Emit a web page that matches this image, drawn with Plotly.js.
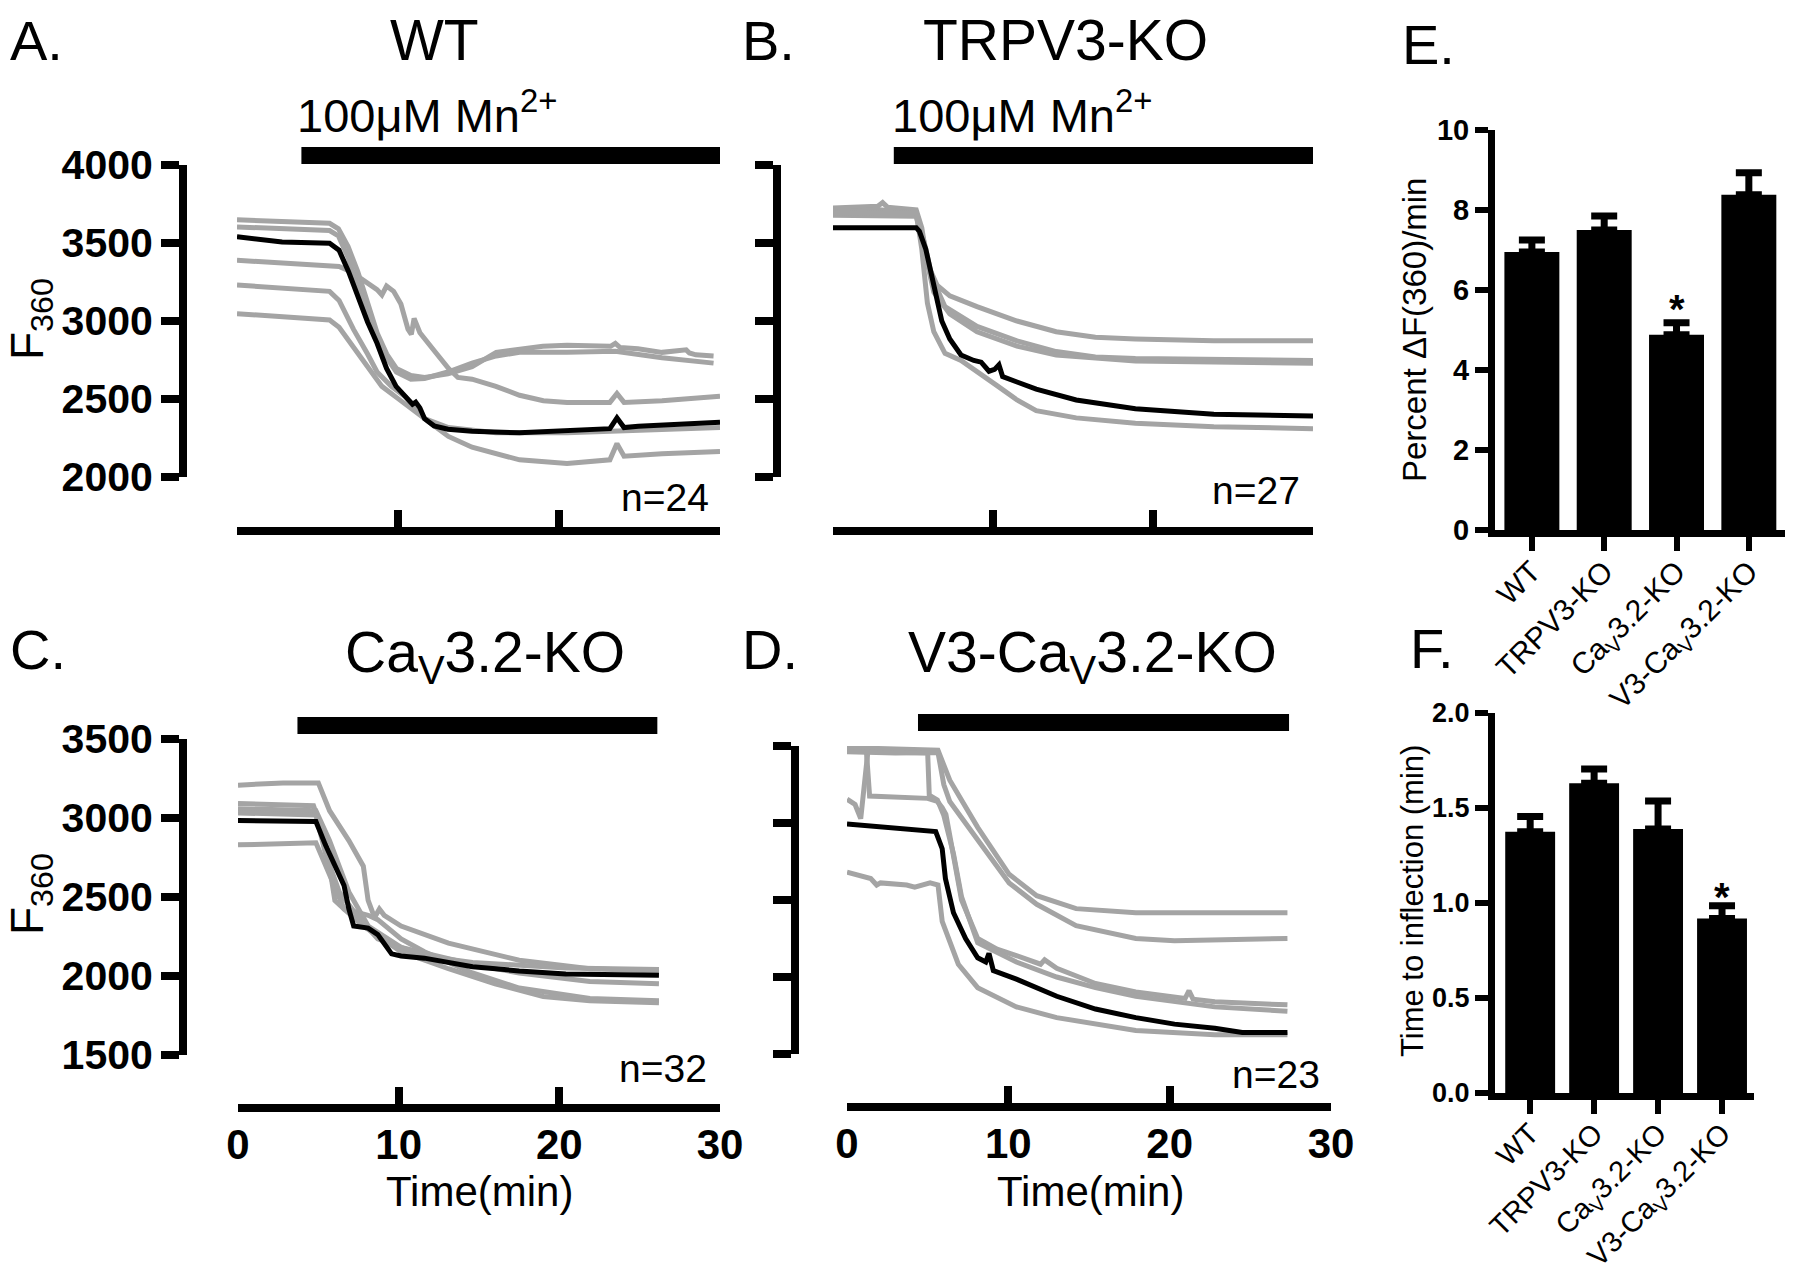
<!DOCTYPE html>
<html>
<head>
<meta charset="utf-8">
<script src="https://cdn.plot.ly/plotly-3.0.1.min.js"></script>
<style>html,body{margin:0;padding:0;background:#fff}#chart{width:1800px;height:1271px}</style>
</head>
<body>
<div id="chart"></div>
<script>
// ---------------- DATA ----------------
const timeTicks = [0, 10, 20, 30];
const yTicksTop = [2000, 2500, 3000, 3500, 4000];
const yTicksBottom = [1500, 2000, 2500, 3000, 3500];
const yRangeTop = [2000, 4000];
const yRangeBottom = [1500, 3500];

const panelTitles = ['WT', 'TRPV3-KO', 'Ca<sub>V</sub>3.2-KO', 'V3-Ca<sub>V</sub>3.2-KO'];
const nCounts = [24, 27, 32, 23];
const mnLabel = '100\u03bcM Mn<sup>2+</sup>';
const mnStart = [4.0, 3.8, 3.7, 4.4];
const mnEnd = [30.2, 30.4, 26.1, 27.4];

// Panel A (WT)
const aBlackT = [0, 2.8, 5.75, 6.34, 6.93, 7.52, 8.11, 8.7, 9.29, 9.88, 10.47, 10.9, 11.1, 11.36, 11.65, 12.24, 13.1, 14.6, 17.55, 20.5, 23.16, 23.6, 24.04, 24.93, 26.4, 30];
const aBlackV = [3540, 3506, 3499, 3454, 3316, 3155, 2994, 2857, 2696, 2581, 2512, 2466, 2480, 2443, 2374, 2328, 2306, 2294, 2283, 2294, 2310, 2379, 2317, 2325, 2333, 2351];
const aGray1T = [0, 5.75, 6.3, 6.9, 7.5, 8.1, 8.7, 9.3, 9.9, 10.8, 11.65, 13.1, 14.6, 16.1, 17.55, 19, 20.5, 23.2, 23.5, 23.8, 24.9, 26.4, 27.9, 28.1, 28.5, 29.6];
const aGray1V = [3649, 3626, 3591, 3477, 3316, 3109, 2925, 2788, 2696, 2650, 2638, 2661, 2707, 2799, 2822, 2838, 2845, 2838, 2857, 2830, 2822, 2799, 2815, 2795, 2783, 2776];
const aGray2T = [0, 5.75, 6.3, 6.9, 7.5, 8.1, 8.7, 9.3, 9.9, 10.8, 11.65, 13.1, 14.6, 16.1, 17.55, 20.5, 23.5, 26.4, 29.6];
const aGray2V = [3603, 3580, 3545, 3408, 3224, 3040, 2880, 2765, 2673, 2627, 2632, 2673, 2730, 2776, 2799, 2799, 2806, 2765, 2730];
const aGray3T = [0, 5.75, 6.34, 7.08, 8.11, 8.7, 9.0, 9.29, 9.73, 10.18, 10.62, 10.83, 11.0, 11.36, 12.24, 13.13, 13.72, 14.6, 16.08, 17.55, 19.03, 20.5, 23.16, 23.6, 24.04, 26.4, 30];
const aGray3V = [3389, 3350, 3350, 3316, 3247, 3201, 3167, 3224, 3190, 3109, 2948, 2914, 3017, 2925, 2811, 2696, 2638, 2627, 2581, 2524, 2489, 2478, 2478, 2535, 2478, 2489, 2517];
const aGray4T = [0, 5.75, 6.34, 7.23, 8.11, 8.7, 9.59, 10.47, 11.06, 11.65, 13.13, 14.6, 17.55, 20.5, 23.16, 23.6, 24.04, 26.4, 30];
const aGray4V = [3231, 3190, 3132, 2948, 2788, 2673, 2581, 2512, 2443, 2374, 2260, 2191, 2110, 2087, 2110, 2214, 2133, 2149, 2163];
const aGray5T = [0, 5.75, 6.34, 7.23, 8.11, 9.0, 9.88, 10.77, 11.65, 13.13, 16.08, 20.5, 23.16, 26.4, 30];
const aGray5V = [3047, 3006, 2960, 2834, 2696, 2581, 2512, 2443, 2374, 2317, 2283, 2283, 2294, 2306, 2317];

// Panel B (TRPV3-KO)
const bBlackT = [0, 5.2, 5.4, 5.8, 6.3, 6.8, 7.3, 8.0, 8.8, 9.26, 9.75, 10.1, 10.37, 10.6, 11.5, 12.7, 15.2, 18.9, 23.8, 30];
const bBlackV = [3598, 3598, 3575, 3460, 3230, 3000, 2885, 2782, 2747, 2736, 2678, 2690, 2719, 2644, 2609, 2563, 2494, 2437, 2402, 2391];
const bGray1T = [0, 1.5, 2.8, 3.1, 3.4, 5.2, 5.55, 5.9, 6.5, 7.3, 9.0, 11.5, 13.95, 16.4, 18.9, 23.8, 30];
const bGray1V = [3724, 3730, 3736, 3759, 3730, 3713, 3598, 3368, 3230, 3161, 3092, 3000, 2931, 2896, 2885, 2874, 2874];
const bGray2T = [0, 2.9, 5.2, 5.7, 6.2, 7.0, 9.0, 11.5, 13.95, 16.4, 18.9, 30];
const bGray2V = [3701, 3713, 3690, 3506, 3276, 3092, 2965, 2873, 2804, 2770, 2759, 2747];
const bGray3T = [0, 5.2, 5.7, 6.3, 7.3, 9.0, 11.5, 13.95, 18.9, 30];
const bGray3V = [3678, 3671, 3460, 3184, 3046, 2931, 2839, 2782, 2743, 2729];
const bGray4T = [0, 5.2, 5.55, 5.9, 6.3, 7.0, 8.0, 9.0, 10.25, 11.5, 12.7, 15.2, 18.9, 23.8, 30];
const bGray4V = [3690, 3694, 3460, 3115, 2931, 2793, 2747, 2678, 2586, 2494, 2425, 2379, 2345, 2322, 2310];

// Panel C (CaV3.2-KO)
const cBlackT = [0, 4.85, 5.44, 6.03, 6.6, 6.9, 7.2, 8.1, 8.7, 9.56, 10.15, 11.6, 14.6, 17.5, 20.4, 26.2];
const cBlackV = [2984, 2978, 2830, 2695, 2573, 2424, 2316, 2303, 2262, 2140, 2127, 2113, 2059, 2032, 2013, 2005];
const cGray1T = [0, 2.8, 5.0, 5.7, 6.9, 7.8, 8.1, 8.5, 8.8, 9.1, 10.15, 13.1, 17.5, 21.9, 26.2];
const cGray1V = [3208, 3222, 3222, 3046, 2857, 2695, 2478, 2370, 2424, 2384, 2316, 2208, 2100, 2046, 2032];
const cGray2T = [0, 4.7, 5.44, 6.03, 6.6, 8.1, 8.7, 10.15, 11.6, 14.6, 17.5, 21.9, 26.2];
const cGray2V = [3092, 3078, 2857, 2478, 2424, 2384, 2357, 2235, 2154, 2019, 1924, 1857, 1843];
const cGray3T = [0, 4.85, 5.7, 6.9, 8.1, 10.15, 14.6, 17.5, 21.9, 26.2];
const cGray3V = [3059, 3046, 2857, 2532, 2316, 2181, 2073, 2019, 1965, 1951];
const cGray4T = [0, 4.85, 5.44, 6.3, 7.5, 8.7, 11.6, 14.6, 20.4, 26.2];
const cGray4V = [3032, 3019, 2776, 2532, 2370, 2235, 2127, 2086, 2051, 2041];
const cGray5T = [0, 4.85, 5.7, 6.6, 7.8, 10.15, 13.1, 16.0, 19.0, 21.9, 26.2];
const cGray5V = [2830, 2843, 2641, 2424, 2316, 2154, 2046, 1951, 1870, 1843, 1830];

// Panel D (V3-CaV3.2-KO)
const dBlackT = [0, 5.5, 5.9, 6.1, 6.6, 7.35, 8.1, 8.6, 8.8, 9.07, 10.5, 13, 15.4, 17.9, 20.3, 22.8, 24.5, 27.3];
const dBlackV = [2994, 2944, 2833, 2639, 2417, 2250, 2125, 2097, 2153, 2042, 1986, 1875, 1792, 1736, 1694, 1667, 1639, 1639];
const dGray1T = [0, 1.2, 1.4, 3.0, 5.0, 5.6, 5.9, 6.13, 6.6, 7.1, 8.1, 9.3, 10.5, 12.0, 12.25, 13.0, 15.4, 17.9, 20.96, 21.2, 21.45, 22.8, 27.3];
const dGray1V = [3480, 3470, 3175, 3165, 3160, 3140, 3100, 3056, 2778, 2500, 2250, 2181, 2139, 2083, 2111, 2056, 1958, 1903, 1861, 1911, 1856, 1839, 1819];
const dGray2T = [0, 0.5, 0.85, 1.3, 3.0, 5.0, 5.1, 5.6, 6.0, 6.6, 7.1, 8.1, 10.5, 13.0, 15.4, 17.9, 22.8, 27.3];
const dGray2V = [3155, 3120, 3028, 3470, 3460, 3455, 3180, 3150, 3050, 2800, 2520, 2222, 2097, 2000, 1931, 1875, 1806, 1778];
const dGray3T = [0, 3.0, 5.64, 6.37, 8.1, 10.05, 11.76, 14.2, 17.9, 27.3];
const dGray3V = [3490, 3480, 3472, 3278, 2972, 2667, 2528, 2444, 2417, 2417];
const dGray4T = [0, 3.0, 5.64, 6.0, 6.37, 8.1, 10.05, 11.76, 14.2, 17.9, 20.3, 27.3];
const dGray4V = [3462, 3455, 3458, 3250, 3139, 2889, 2611, 2472, 2333, 2250, 2236, 2250];
const dGray5T = [0, 1.47, 1.84, 2.08, 3.7, 4.2, 5.15, 5.64, 5.9, 6.37, 6.9, 8.1, 10.5, 13, 17.9, 22.8, 27.3];
const dGray5V = [2681, 2639, 2597, 2611, 2597, 2583, 2611, 2597, 2361, 2222, 2083, 1931, 1806, 1736, 1653, 1625, 1625];

// Panels E and F (bar charts)
const groupLabels = ['WT', 'TRPV3-KO', 'Ca<sub>V</sub>3.2-KO', 'V3-Ca<sub>V</sub>3.2-KO'];
const rateMean = [6.95, 7.5, 4.88, 8.38];
const rateSem = [0.30, 0.35, 0.30, 0.55];
const rateSig = [false, false, true, false];
const rateTicks = [0, 2, 4, 6, 8, 10];
const inflMean = [1.375, 1.63, 1.39, 0.918];
const inflSem = [0.08, 0.075, 0.147, 0.068];
const inflSig = [false, false, false, true];
const inflTicks = [0, 0.5, 1.0, 1.5, 2.0];

// ---------------- DRAWING ----------------
const W = 1800, H = 1271;
const FONT = 'Liberation Sans, Arial, Helvetica, sans-serif';
const GRAY = '#a4a4a4';
const px = v => v / W;
const py = v => 1 - v / H;

function trace(t, v, n, color) {
  return {type: 'scatter', mode: 'lines', x: t, y: v, xaxis: 'x' + n, yaxis: 'y' + n,
    line: {color: color, width: 5}, hoverinfo: 'skip', showlegend: false, cliponaxis: false};
}

const panelTraces = [
  [[aGray1T, aGray1V], [aGray2T, aGray2V], [aGray3T, aGray3V], [aGray4T, aGray4V], [aGray5T, aGray5V], [aBlackT, aBlackV]],
  [[bGray1T, bGray1V], [bGray2T, bGray2V], [bGray3T, bGray3V], [bGray4T, bGray4V], [bBlackT, bBlackV]],
  [[cGray1T, cGray1V], [cGray2T, cGray2V], [cGray3T, cGray3V], [cGray4T, cGray4V], [cGray5T, cGray5V], [cBlackT, cBlackV]],
  [[dGray1T, dGray1V], [dGray2T, dGray2V], [dGray3T, dGray3V], [dGray4T, dGray4V], [dGray5T, dGray5V], [dBlackT, dBlackV]]
];
const axisSuffix = ['', '2', '3', '4'];

const data = [];
panelTraces.forEach((list, p) => {
  list.forEach((tv, i) => {
    data.push(trace(tv[0], tv[1], axisSuffix[p], i === list.length - 1 ? '#000' : GRAY));
  });
});

const catIdx = groupLabels.map((_, i) => i);
function barTrace(mean, sem, n, w) {
  return {type: 'bar', x: catIdx, y: mean, xaxis: 'x' + n, yaxis: 'y' + n, width: w,
    marker: {color: '#000', line: {width: 0}}, hoverinfo: 'skip', showlegend: false,
    error_y: {type: 'data', symmetric: false, array: sem, arrayminus: sem.map(() => 0),
      color: '#000', thickness: 7, width: 13}};
}
data.push(barTrace(rateMean, rateSem, '5', 0.76));
data.push(barTrace(inflMean, inflSem, '6', 0.78));

// axis helpers (positions in pixels)
function timeAxis(d0, d1, linePos, labels) {
  return {domain: [px(d0), px(d1)], range: [0, 30], anchor: 'free', position: py(linePos),
    showline: true, linewidth: 8, linecolor: '#000', ticks: 'inside', ticklen: 17, tickwidth: 8,
    tickcolor: '#000', tickmode: 'array', tickvals: timeTicks, showticklabels: labels,
    ticklabelstandoff: -3,
    tickfont: {family: FONT, size: 42, weight: 'bold', color: '#000'},
    showgrid: false, zeroline: false, fixedrange: true};
}
function fAxis(top, bottom, xPos, range, ticks, labels) {
  return {domain: [py(bottom), py(top)], range: range, anchor: 'free', position: px(xPos),
    showline: true, linewidth: 8, linecolor: '#000', ticks: 'outside', ticklen: 18, tickwidth: 8,
    tickcolor: '#000', tickmode: 'array', tickvals: ticks, showticklabels: labels,
    tickfont: {family: FONT, size: 41, weight: 'bold', color: '#000'},
    showgrid: false, zeroline: false, fixedrange: true};
}
function catAxis(d0, d1, yName, range, size) {
  return {domain: [px(d0), px(d1)], range: range, anchor: yName, showline: true, linewidth: 7,
    linecolor: '#000', ticks: 'outside', ticklen: 14, tickwidth: 6, tickcolor: '#000',
    tickmode: 'array', tickvals: catIdx, ticktext: groupLabels, tickangle: -45,
    ticklabelstandoff: -9,
    tickfont: {family: FONT, size: size, color: '#000'}, showgrid: false, zeroline: false, fixedrange: true};
}
function valAxis(top, bottom, xName, range, ticks, fmt, size) {
  return {domain: [py(bottom), py(top)], range: range, anchor: xName, showline: true, linewidth: 7,
    linecolor: '#000', ticks: 'outside', ticklen: 13, tickwidth: 6, tickcolor: '#000',
    tickmode: 'array', tickvals: ticks, tickformat: fmt,
    tickfont: {family: FONT, size: size, weight: 'bold', color: '#000'},
    showgrid: false, zeroline: false, fixedrange: true};
}

function ann(text, x, y, size, extra) {
  return Object.assign({text: text, x: px(x), y: py(y), xref: 'paper', yref: 'paper', showarrow: false,
    xanchor: 'center', yanchor: 'middle', font: {family: FONT, size: size, color: '#000'}}, extra || {});
}

const annotations = [
  ann('A.', 8, 40, 56, {xanchor: 'left'}),
  ann('B.', 740, 40, 56, {xanchor: 'left'}),
  ann('C.', 8, 650, 56, {xanchor: 'left'}),
  ann('D.', 740, 650, 56, {xanchor: 'left'}),
  ann('E.', 1400, 44, 56, {xanchor: 'left'}),
  ann('F.', 1408, 648, 56, {xanchor: 'left'}),
  ann(panelTitles[0], 434, 40, 57),
  ann(panelTitles[1], 1065, 40, 57),
  ann(panelTitles[2], 485, 656, 57),
  ann(panelTitles[3], 1092, 656, 57),
  ann(mnLabel, 295, 112, 47, {xanchor: 'left'}),
  ann(mnLabel, 890, 112, 47, {xanchor: 'left'}),
  ann('n=' + nCounts[0], 711, 497, 39, {xanchor: 'right'}),
  ann('n=' + nCounts[1], 1302, 491, 39, {xanchor: 'right'}),
  ann('n=' + nCounts[2], 709, 1068, 39, {xanchor: 'right'}),
  ann('n=' + nCounts[3], 1322, 1074, 39, {xanchor: 'right'}),
  ann('F<sub>360</sub>', 30, 319, 46, {textangle: -90}),
  ann('F<sub>360</sub>', 30, 894, 46, {textangle: -90}),
  ann('Time(min)', 479, 1191, 42),
  ann('Time(min)', 1090, 1191, 42),
  ann('Percent \u0394F(360)/min', 1414, 330, 33, {textangle: -90}),
  ann('Time to inflection (min)', 1412, 901, 31, {textangle: -90})
];
rateSig.forEach((s, i) => { if (s) annotations.push({text: '*', x: i, y: rateMean[i] + rateSem[i], xref: 'x5', yref: 'y5',
  showarrow: false, yanchor: 'bottom', yshift: -10, font: {family: FONT, size: 40, weight: 'bold', color: '#000'}}); });
inflSig.forEach((s, i) => { if (s) annotations.push({text: '*', x: i, y: inflMean[i] + inflSem[i], xref: 'x6', yref: 'y6',
  showarrow: false, yanchor: 'bottom', yshift: -15, font: {family: FONT, size: 40, weight: 'bold', color: '#000'}}); });

// Mn2+ application bars drawn on the time scale of each panel
const barY = [[147, 164], [147, 164], [717, 734], [714, 731]];
const shapes = mnStart.map((s, i) => ({type: 'rect', xref: 'x' + axisSuffix[i], yref: 'paper',
  x0: s, x1: mnEnd[i], y0: py(barY[i][1]), y1: py(barY[i][0]), fillcolor: '#000', line: {width: 0}}));

const layout = {
  width: W, height: H, margin: {l: 0, r: 0, t: 0, b: 0}, paper_bgcolor: '#fff', plot_bgcolor: 'rgba(0,0,0,0)',
  font: {family: FONT, color: '#000'}, showlegend: false,
  xaxis: timeAxis(237, 720, 531, false),
  yaxis: fAxis(165, 477, 183, yRangeTop, yTicksTop, true),
  xaxis2: timeAxis(833, 1313, 531, false),
  yaxis2: fAxis(165, 477, 777, yRangeTop, yTicksTop, false),
  xaxis3: timeAxis(238, 720, 1108, true),
  yaxis3: fAxis(739, 1055, 183, yRangeBottom, yTicksBottom, true),
  xaxis4: timeAxis(847, 1331, 1107, true),
  yaxis4: fAxis(746, 1054, 795, yRangeBottom, yTicksBottom, false),
  xaxis5: catAxis(1495, 1785, 'y5', [-0.51, 3.5], 30),
  yaxis5: valAxis(130, 530, 'x5', [0, 10], rateTicks, 'd', 29),
  xaxis6: catAxis(1495, 1754, 'y6', [-0.55, 3.5], 29),
  yaxis6: valAxis(713, 1093, 'x6', [0, 2], inflTicks, '.1f', 27),
  annotations: annotations,
  shapes: shapes
};

Plotly.newPlot('chart', data, layout, {displayModeBar: false, staticPlot: true});
</script>
</body>
</html>
